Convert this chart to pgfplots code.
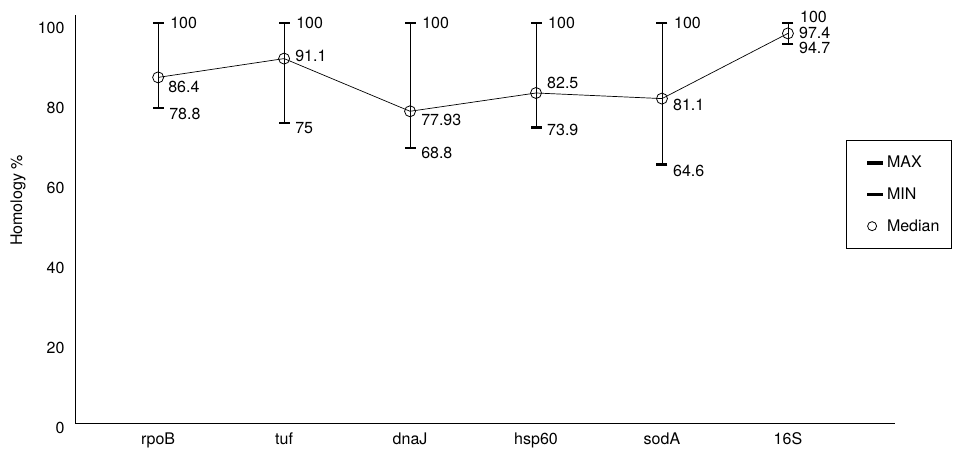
\documentclass[border=0pt]{standalone}
\usepackage{fontspec}
\setmainfont{TeX Gyre Heros}
\usepackage{pgfplots}
\pgfplotsset{compat=1.18}
\usepackage{pgfplotstable}
\pgfplotstableread{
x med mx mn
0 86.4 100 78.8
1 91.1 100 75
2 77.93 100 68.8
3 82.5 100 73.9
4 81.1 100 64.6
5 97.4 100 94.7
}\datatable
\newcommand\myfont{\fontsize{16pt}{19.2pt}\selectfont}
\newcommand\labfont{\fontsize{16pt}{19.2pt}\selectfont}
\tikzset{lab/.style={anchor=west, inner sep=0pt, font=\myfont}}
\begin{document}
\begin{tikzpicture}[font=\myfont]
\path[use as bounding box] (0,0) rectangle (955pt,450pt);
\begin{axis}[
  at={(75pt,27pt)}, anchor=south west,
  scale only axis, width=820pt, height=408pt,
  xmin=-0.66, xmax=5.85, ymin=0, ymax=102,
  clip=false,
  axis lines*=left,
  axis line style={line width=0.8pt},
  xtick={0,1,2,3,4,5},
  xticklabels={rpoB,tuf,dnaJ,hsp60,sodA,16S},
  ytick={0,20,40,60,80,100},
  major tick length=0pt,
  /pgf/number format/assume math mode=true,
  tick label style={font=\myfont},
  yticklabel style={yshift=-5pt, xshift=-7pt},
  xticklabel style={yshift=-6pt},
  ylabel={Homology \%},
  every axis y label/.style={at={(axis description cs:-0.0695,0.545)}, rotate=90, anchor=center, font=\labfont},
  legend style={at={(0.940,0.694)}, anchor=north west, draw=black, line width=0.8pt,
    inner xsep=10pt, inner ysep=14pt, row sep=14.5pt, column sep=0pt, font=\myfont},
  legend cell align=left,
]
\addplot[only marks, mark=-, mark size=5.5pt, mark options={line width=2.5pt},
  legend image code/.code={\fill[white] (0pt,-1pt) rectangle (1pt,1pt); \fill[white] (27pt,-1pt) rectangle (28pt,1pt); \fill[black] (11pt,-1.25pt) rectangle (25.5pt,1.25pt);}]
  table[x=x, y=mx] {\datatable};
\addlegendentry{MAX}
\addplot[only marks, mark=-, mark size=5.5pt, mark options={line width=2.5pt},
  legend image code/.code={\fill[white] (0pt,-1pt) rectangle (1pt,1pt); \fill[white] (27pt,-1pt) rectangle (28pt,1pt); \fill[black] (11pt,-1.25pt) rectangle (25.5pt,1.25pt);}]
  table[x=x, y=mn] {\datatable};
\addlegendentry{MIN}
\addplot[black, line width=0.7pt, mark=o, mark size=5.5pt, mark options={line width=0.8pt},
  legend image code/.code={\fill[white] (0pt,-1pt) rectangle (1pt,1pt); \fill[white] (27pt,-1pt) rectangle (28pt,1pt); \draw[line width=0.8pt] (15.5pt,0pt) circle (4.5pt);},
  error bars/.cd, y dir=both, y explicit, error mark=none,
  error bar style={line width=0.8pt, black}]
  table[x=x, y=med, y error plus expr=\thisrow{mx}-\thisrow{med}, y error minus expr=\thisrow{med}-\thisrow{mn}] {\datatable};
\addlegendentry{Median}
% max labels
\node[lab, xshift=12pt] at (axis cs:0,100) {100};
\node[lab, xshift=12pt] at (axis cs:1,100) {100};
\node[lab, xshift=12pt] at (axis cs:2,100) {100};
\node[lab, xshift=12pt] at (axis cs:3,100) {100};
\node[lab, xshift=12pt] at (axis cs:4,100) {100};
\node[lab, xshift=12pt, yshift=6pt] at (axis cs:5,100) {100};
% median labels
\node[lab, xshift=10pt, yshift=-10pt] at (axis cs:0,86.4) {86.4};
\node[lab, xshift=11pt, yshift=2.5pt] at (axis cs:1,91.1) {91.1};
\node[lab, xshift=11pt, yshift=-9pt] at (axis cs:2,77.93) {77.93};
\node[lab, xshift=11pt, yshift=10pt] at (axis cs:3,82.5) {82.5};
\node[lab, xshift=11pt, yshift=-6pt] at (axis cs:4,81.1) {81.1};
\node[lab, xshift=11pt] at (axis cs:5,97.4) {97.4};
% min labels
\node[lab, xshift=11pt, yshift=-6pt] at (axis cs:0,78.8) {78.8};
\node[lab, xshift=11pt, yshift=-5pt] at (axis cs:1,75) {75};
\node[lab, xshift=11pt, yshift=-5pt] at (axis cs:2,68.8) {68.8};
\node[lab, xshift=11pt, yshift=-3pt] at (axis cs:3,73.9) {73.9};
\node[lab, xshift=11pt, yshift=-6pt] at (axis cs:4,64.6) {64.6};
\node[lab, xshift=11pt, yshift=-4pt] at (axis cs:5,94.7) {94.7};
\end{axis}
\end{tikzpicture}
\end{document}
